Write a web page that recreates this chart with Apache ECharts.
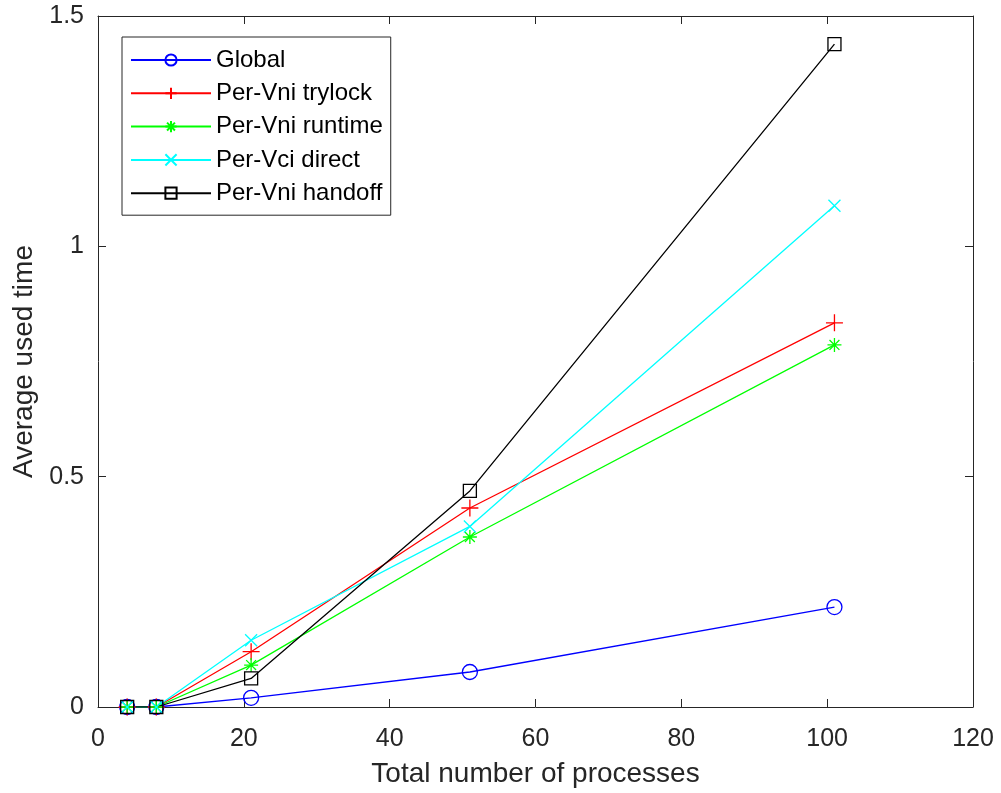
<!DOCTYPE html>
<html>
<head>
<meta charset="utf-8">
<script src="https://cdn.jsdelivr.net/npm/echarts@6/dist/echarts.min.js"></script>
<style>
  html, body { margin: 0; padding: 0; background: #fff; }
  #chart { width: 1001px; height: 793px; }
</style>
</head>
<body>
<div id="chart"></div>
<script>
// Total number of processes (x positions shared by all series)
const processes = [4, 8, 21, 51, 101];

// Average used time per locking scheme
const globalLock   = [0, 0, 0.020, 0.076, 0.217];
const vniTrylock   = [0, 0, 0.120, 0.432, 0.834];
const vniRuntime   = [0, 0, 0.091, 0.369, 0.786];
const vciDirect    = [0, 0, 0.145, 0.392, 1.088];
const vniHandoff   = [0, 0, 0.062, 0.469, 1.439];

const seriesNames = ['Global', 'Per-Vni trylock', 'Per-Vni runtime', 'Per-Vci direct', 'Per-Vni handoff'];

const xTicks = { min: 0, max: 120, interval: 20 };
const yTicks = { min: 0, max: 1.5, interval: 0.5 };

const FONT = '"Liberation Sans", Arial, Helvetica, sans-serif';
const AXIS_COLOR = '#262626';

// Marker outlines (stroked, unfilled)
const SYM_PLUS = 'path://M0,6H12M6,0V12';
const SYM_STAR = 'path://M0,6H12M6,0V12M1.76,1.76L10.24,10.24M1.76,10.24L10.24,1.76';
const SYM_X    = 'path://M0,0L12,12M0,12L12,0';

function pairs(ys) {
  return processes.map((x, i) => [x, ys[i]]);
}

function lineSeries(name, ys, color, symbol, size) {
  return {
    name: name,
    type: 'line',
    data: pairs(ys),
    symbol: symbol,
    symbolSize: size,
    showAllSymbol: true,
    lineStyle: { color: color, width: 1.3 },
    itemStyle: { color: 'rgba(0,0,0,0)', borderColor: color, borderWidth: 1.3 },
    emphasis: { disabled: true },
    z: 3
  };
}

const chart = echarts.init(document.getElementById('chart'), null, { renderer: 'canvas' });

// Top and right edges of the box, ticks only
const boxAxisCommon = {
  axisLine: { show: true, onZero: false, lineStyle: { color: AXIS_COLOR, width: 1 } },
  axisTick: { show: true, inside: true, length: 8, lineStyle: { color: AXIS_COLOR } },
  axisLabel: { show: false },
  splitLine: { show: false }
};

chart.setOption({
  animation: false,
  backgroundColor: '#ffffff',
  grid: { left: 98, right: 28, top: 16, bottom: 86, containLabel: false },
  legend: {
    orient: 'vertical',
    left: 122,
    top: 37,
    padding: [11, 8, 10, 8],
    itemWidth: 80,
    itemHeight: 14,
    itemGap: 9.3,
    backgroundColor: '#ffffff',
    borderColor: AXIS_COLOR,
    borderWidth: 1,
    data: seriesNames,
    textStyle: { fontFamily: FONT, fontSize: 24, color: '#000000' }
  },
  xAxis: [
    {
      type: 'value',
      position: 'bottom',
      min: xTicks.min, max: xTicks.max, interval: xTicks.interval,
      name: 'Total number of processes',
      nameLocation: 'middle',
      nameGap: 53,
      nameTextStyle: { fontFamily: FONT, fontSize: 28, color: AXIS_COLOR },
      axisLine: { show: true, onZero: false, lineStyle: { color: AXIS_COLOR, width: 1 } },
      axisTick: { show: true, inside: true, length: 8, lineStyle: { color: AXIS_COLOR } },
      axisLabel: { fontFamily: FONT, fontSize: 25, color: AXIS_COLOR, margin: 20 },
      splitLine: { show: false }
    },
    Object.assign({
      type: 'value',
      position: 'top',
      min: xTicks.min, max: xTicks.max, interval: xTicks.interval
    }, boxAxisCommon)
  ],
  yAxis: [
    {
      type: 'value',
      position: 'left',
      min: yTicks.min, max: yTicks.max, interval: yTicks.interval,
      name: 'Average used time',
      nameLocation: 'middle',
      nameGap: 58,
      nameTextStyle: { fontFamily: FONT, fontSize: 28, color: AXIS_COLOR },
      axisLine: { show: true, onZero: false, lineStyle: { color: AXIS_COLOR, width: 1 } },
      axisTick: { show: true, inside: true, length: 8, lineStyle: { color: AXIS_COLOR } },
      axisLabel: { fontFamily: FONT, fontSize: 25, color: AXIS_COLOR, margin: 14 },
      splitLine: { show: false }
    },
    Object.assign({
      type: 'value',
      position: 'right',
      min: yTicks.min, max: yTicks.max, interval: yTicks.interval
    }, boxAxisCommon)
  ],
  series: [
    lineSeries(seriesNames[0], globalLock, '#0000ff', 'circle', 15),
    lineSeries(seriesNames[1], vniTrylock, '#ff0000', SYM_PLUS, 17),
    lineSeries(seriesNames[2], vniRuntime, '#00ff00', SYM_STAR, 14),
    lineSeries(seriesNames[3], vciDirect, '#00ffff', SYM_X, 12),
    lineSeries(seriesNames[4], vniHandoff, '#000000', 'rect', 13)
  ]
});
</script>
</body>
</html>
